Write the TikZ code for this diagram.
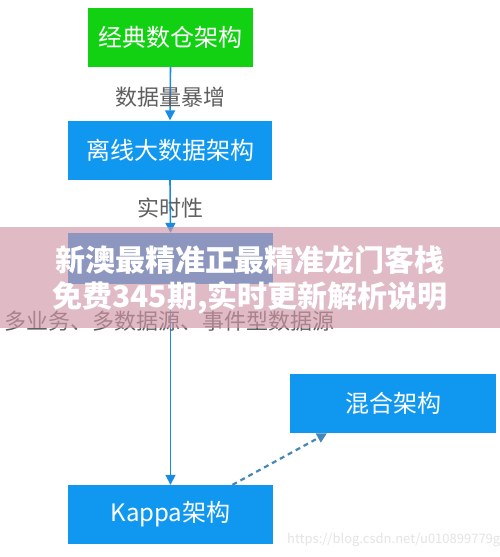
\documentclass[tikz,border=0pt]{standalone}
\usepackage{fontspec}
\setmainfont{Noto Sans CJK SC}
\newfontfamily\cjk{Noto Sans CJK SC}
\usetikzlibrary{arrows.meta}
\definecolor{boxgreen}{RGB}{18,208,18}
\definecolor{boxblue}{RGB}{16,152,240}
\definecolor{lineblue}{RGB}{24,140,228}
\definecolor{dashblue}{RGB}{70,135,185}
\definecolor{labelgray}{RGB}{95,95,95}
\definecolor{bannerpink}{RGB}{208,150,165}
\tikzset{
  archbox/.style={draw=none, minimum height=59pt, text=white, font=\cjk\fontsize{24}{27}\selectfont, inner sep=0pt},
  edgelabel/.style={text=labelgray, font=\cjk\fontsize{22}{25}\selectfont, inner sep=0pt},
  flow/.style={draw=lineblue, line width=1.6pt, -{Triangle[length=10pt,width=10pt]}},
  dashflow/.style={draw=dashblue, line width=2.2pt, dash pattern=on 5pt off 4pt, -{Triangle[length=10pt,width=10pt]}},
  bannertext/.style={text=white, font=\cjk\bfseries\fontsize{30}{33}\selectfont, inner sep=0pt}
}
\begin{document}
\begin{tikzpicture}[x=1pt,y=-1pt]
\useasboundingbox (0,0) rectangle (500,557);
\fill[white] (0,0) rectangle (500,557);
% boxes
\node[archbox, fill=boxgreen, minimum width=165pt] (classic) at (170.5,37.5) {经典数仓架构};
\node[archbox, fill=boxblue, minimum width=204pt] (offline) at (170,150) {离线大数据架构};
\node[archbox, fill=boxblue, minimum width=205pt, minimum height=51pt] (lambda) at (170.5,258.5) {};
\node[archbox, fill=boxblue, minimum width=205pt] (kappa) at (170.5,514.5) {Kappa架构};
\node[archbox, fill=boxblue, minimum width=206pt] (hybrid) at (393,403.5) {混合架构};
% connectors
\draw[flow] (classic.south) -- (offline.north);
\draw[flow] (offline.south) -- (lambda.north);
\draw[flow] (lambda.south) -- (kappa.north);
\coordinate (dstart) at ([xshift=62pt]kappa.north);
\coordinate (dend) at ([xshift=-66pt]hybrid.south);
\draw[dashflow] (dstart) -- (dend);
% labels
\node[edgelabel] (l1) at (170,97) {数据量暴增};
\node[edgelabel] (l2) at (170,208) {实时性};
\node[edgelabel] (l3) at (170,321) {多业务、多数据源、事件型数据源};
% banner overlay
\fill[bannerpink, opacity=0.65] (0,227) rectangle (500,328);
\node[bannertext] (b1) at (250,260) {新澳最精准正最精准龙门客栈};
\node[bannertext] (b2) at (250,298) {免费345期,实时更新解析说明};
% watermark
\node[text={rgb,255:red,228;green,228;blue,228}, font=\fontsize{13}{15}\selectfont, anchor=west, inner sep=0pt] (wm) at (287,540) {https://blog.csdn.net/u010899779g};
\end{tikzpicture}
\end{document}
